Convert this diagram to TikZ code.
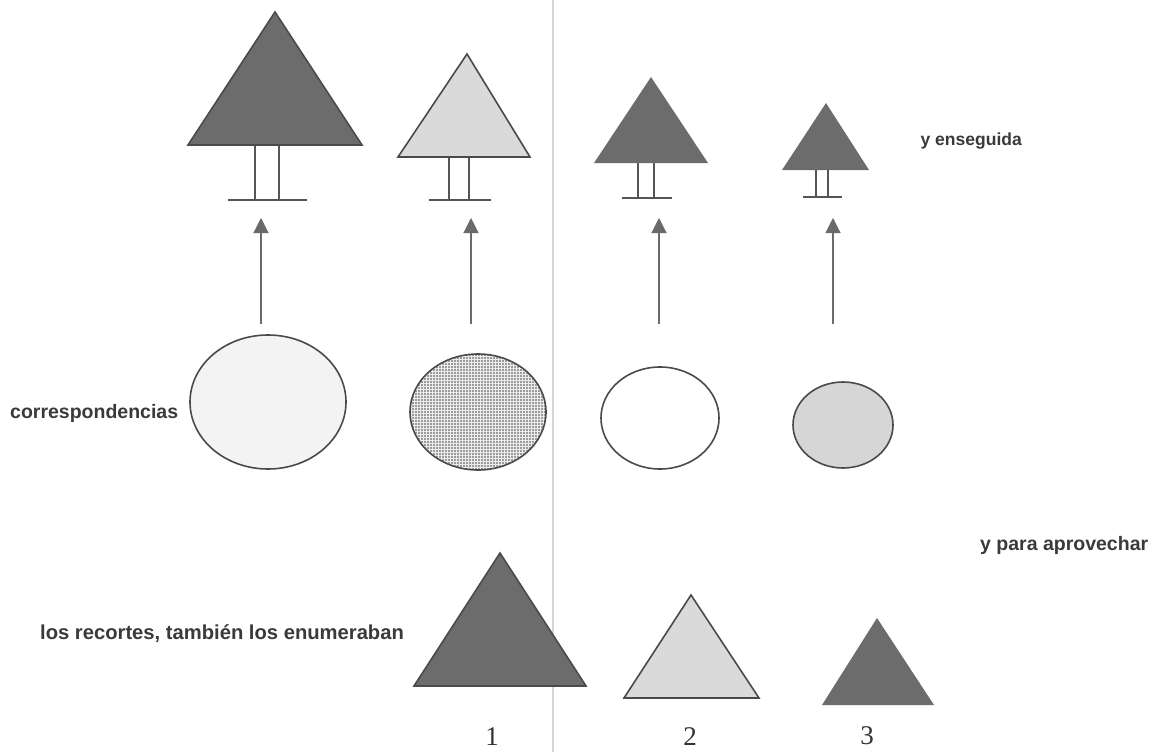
\documentclass[tikz,border=0pt]{standalone}
\usepackage{fontspec}
\setmainfont{Liberation Sans}
\newfontfamily\numfont{Liberation Serif}
\usetikzlibrary{patterns,arrows.meta}
\definecolor{triDark}{HTML}{6C6C6C}
\definecolor{triLight}{HTML}{DADADA}
\definecolor{lineDark}{HTML}{4A4A4A}
\definecolor{stemGray}{HTML}{555555}
\definecolor{arrowGray}{HTML}{6A6A6A}
\definecolor{divGray}{HTML}{D4D4D4}
\definecolor{ellLight}{HTML}{F3F3F3}
\definecolor{ellMid}{HTML}{9C9C9C}
\definecolor{ellPale}{HTML}{D6D6D6}
\definecolor{txtGray}{HTML}{3A3A3A}
\tikzset{
  darktri/.style={fill=triDark, draw=lineDark, line width=1.6pt, line join=miter},
  lighttri/.style={fill=triLight, draw=lineDark, line width=1.6pt, line join=miter},
  solidtri/.style={fill=triDark, draw=none},
  stemline/.style={draw=stemGray, line width=1.1pt},
  arrowline/.style={draw=arrowGray, line width=1.1pt, -{Triangle[length=15pt, width=15pt]}},
  ell/.style={draw=lineDark, line width=1.6pt},
  lbl/.style={font=\bfseries\fontsize{19.5}{22}\selectfont, inner sep=0pt, text=txtGray},
  num/.style={font=\numfont\fontsize{27}{30}\selectfont, inner sep=0pt, text=black!80}
}
\begin{document}
\begin{tikzpicture}[x=1pt,y=-1pt]
\useasboundingbox (0,0) rectangle (1157,752);
\fill[white] (0,0) rectangle (1157,752);
% divider
\draw[divGray, line width=2pt] (553,0) -- (553,752);

% ---- top row: trees ----
% tree 1
\draw[stemline] (255,145) -- (255,200) (279,145) -- (279,200) (228,200) -- (307,200);
\draw[darktri] (188,145) -- (275,12) -- (362,145) -- cycle;
% tree 2
\draw[stemline] (449,157) -- (449,200) (469,157) -- (469,200) (429,200) -- (491,200);
\draw[lighttri] (398,157) -- (467,54) -- (530,157) -- cycle;
% tree 3
\draw[stemline] (638,163) -- (638,198) (654,163) -- (654,198) (622,198) -- (672,198);
\draw[solidtri] (594,163) -- (651,77) -- (708,163) -- cycle;
% tree 4
\draw[stemline] (816,170) -- (816,197) (828,170) -- (828,197) (803,197) -- (842,197);
\draw[solidtri] (782,170) -- (826,103) -- (869,170) -- cycle;

\node[lbl, font=\bfseries\fontsize{17.5}{20}\selectfont, anchor=east] (enseg) at (1022,141) {y enseguida};

% ---- arrows ----
\coordinate (a1s) at (261,324); \coordinate (a1e) at (261,218);
\coordinate (a2s) at (471,324); \coordinate (a2e) at (471,218);
\coordinate (a3s) at (659,324); \coordinate (a3e) at (659,218);
\coordinate (a4s) at (833,324); \coordinate (a4e) at (833,218);
\draw[arrowline] (a1s) -- (a1e);
\draw[arrowline] (a2s) -- (a2e);
\draw[arrowline] (a3s) -- (a3e);
\draw[arrowline] (a4s) -- (a4e);

% ---- ellipses ----
\draw[ell, fill=ellLight] (268,402) ellipse [x radius=78, y radius=67];
\fill[ellMid] (478,412) ellipse [x radius=68, y radius=58];
\fill[pattern=grid, pattern color=white!85!gray] (478,412) ellipse [x radius=68, y radius=58];
\draw[ell] (478,412) ellipse [x radius=68, y radius=58];
\draw[ell, fill=white] (660,418) ellipse [x radius=59, y radius=51];
\draw[ell, fill=ellPale] (843,425) ellipse [x radius=50, y radius=43];

\node[lbl, anchor=west] (corr) at (10,413) {correspondencias};

% ---- bottom row ----
\node[lbl, anchor=west] (aprov) at (980,545) {y para aprovechar};
\node[lbl, font=\bfseries\fontsize{20.2}{23}\selectfont, anchor=west] (recort) at (40,634) {los recortes, también los enumeraban};

\draw[darktri] (414,686) -- (500,553) -- (586,686) -- cycle;
\draw[lighttri] (624,698) -- (691,595) -- (759,698) -- cycle;
\draw[solidtri] (822,705) -- (877,618) -- (934,705) -- cycle;

\node[num] (n1) at (492,737) {1};
\node[num] (n2) at (690,737) {2};
\node[num] (n3) at (867,736) {3};
\end{tikzpicture}
\end{document}
